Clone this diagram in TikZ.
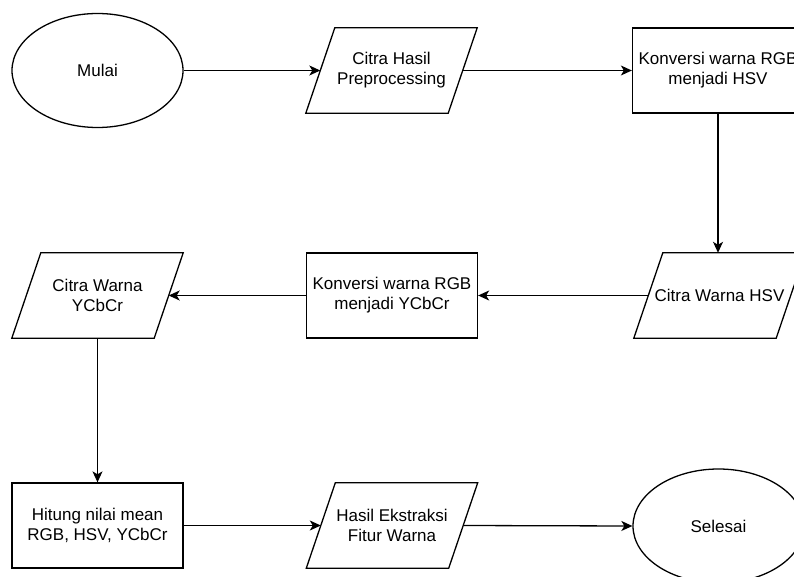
\documentclass[tikz,border=0pt]{standalone}
\usepackage{fontspec}
\setmainfont{Liberation Sans}
\usetikzlibrary{shapes.geometric,arrows.meta,calc}

\tikzset{
  line/.style={draw=black, line width=1.3pt},
  flow/.style={line, -{Stealth[length=11pt,width=10pt,inset=3pt]}},
  txt/.style={align=center, inner sep=0pt, font=\fontsize{17}{20}\selectfont},
  terminal/.style={txt, line, ellipse, minimum width=171pt, minimum height=114pt},
  process/.style={txt, line, rectangle, minimum width=171pt, minimum height=85pt},
  % data nodes: the outline is a parallelogram drawn around the node box
  data/.style={txt, rectangle, minimum width=142pt, minimum height=85pt},
}

\begin{document}
\begin{tikzpicture}[x=1pt, y=-1pt]
  \useasboundingbox (0,0) rectangle (794,577);
  \clip (0,0) rectangle (794,577);

  % first row
  \node[terminal] (start)   at (97.5,70.5)  {Mulai};
  \node[data]     (pre)     at (391.5,70.5) {Citra Hasil\\Preprocessing};
  \node[process]  (hsvconv) at (718,70.5)   {Konversi warna RGB\\menjadi HSV};

  % second row
  \node[data]     (hsvimg)  at (719.5,295.5) {Citra Warna HSV};
  \node[process]  (yccconv) at (392,295.5)   {Konversi warna RGB\\menjadi YCbCr};
  \node[data]     (yccimg)  at (97.5,295.5)  {Citra Warna\\YCbCr};

  % third row
  \node[process]  (mean)    at (97.5,525.5)  {Hitung nilai mean\\RGB, HSV, YCbCr};
  \node[data]     (hasil)   at (392,525.5)   {Hasil Ekstraksi\\Fitur Warna};
  \node[terminal] (finish)  at (718.5,526)   {Selesai};

  % parallelogram outlines of the data nodes
  \foreach \n in {pre,hsvimg,yccimg,hasil}
    \draw[line, line join=miter]
      ($(\n.north west)+(14.5,0)$) -- ($(\n.north east)+(14.5,0)$) --
      ($(\n.south east)+(-14.5,0)$) -- ($(\n.south west)+(-14.5,0)$) -- cycle;

  % connectors
  \draw[flow] (start.east) -- (pre.west);
  \draw[flow] (pre.east) -- (hsvconv.west);
  \draw[flow] (hsvconv.south) -- (hsvconv.south |- hsvimg.north);
  \draw[flow] (hsvimg.west) -- (yccconv.east);
  \draw[flow] (yccconv.west) -- (yccimg.east);
  \draw[flow] (yccimg.south) -- (mean.north);
  \draw[flow] (mean.east) -- (hasil.west);
  \draw[flow] (hasil.east) -- (finish.west);
\end{tikzpicture}
\end{document}
